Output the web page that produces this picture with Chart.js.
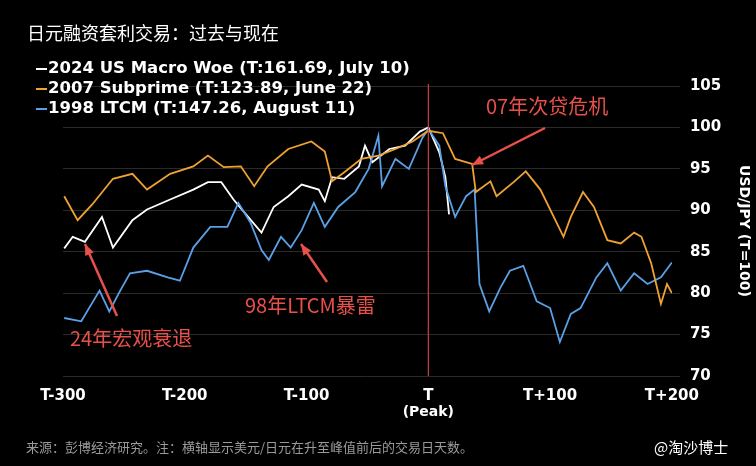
<!DOCTYPE html>
<html><head><meta charset="utf-8">
<script src="https://cdn.jsdelivr.net/npm/chart.js@4"></script>
<style>html,body{margin:0;background:#000;}#w{width:756px;height:466px;}</style>
</head><body><div id="w"><canvas id="c"></canvas></div>
<script>
const xTicks = [-300,-200,-100,0,100,200];
const xTickLabels = ['T-300','T-200','T-100','T','T+100','T+200'];
const whiteDays = [-299,-292,-282,-268,-259,-243,-231,-212,-193,-181,-170,-160,-148,-137,-127,-115,-104,-90,-85,-79,-69,-57,-52,-46,-32,-19,-7,0,9,14,17];
const whiteVals = [85.4,86.8,86.2,89.2,85.5,88.8,90.1,91.3,92.5,93.4,93.4,91.3,89.2,87.3,90.4,91.7,93.1,92.5,91.1,94.0,93.8,95.3,97.8,95.8,97.4,97.8,99.5,100,97,94,89.5];
const orangeDays = [-299,-288,-276,-259,-243,-231,-212,-193,-181,-168,-154,-143,-132,-115,-96,-85,-79,-69,-55,-41,-27,-13,0,12,22,36,39,51,56,70,80,92,103,111,117,127,136,147,158,169,175,183,191,196,200];
const orangeVals = [91.7,88.8,90.7,93.8,94.4,92.5,94.4,95.3,96.6,95.2,95.3,92.9,95.3,97.4,98.3,97.1,93.5,94.6,96.2,96.6,97.4,98.3,99.6,99.3,96.2,95.6,92.2,93.5,91.7,93.4,94.7,92.5,89.2,86.8,89.2,92.2,90.4,86.4,86.0,87.3,86.8,83.6,78.7,81.1,80.0];
const blueDays = [-299,-285,-270,-262,-253,-245,-231,-214,-204,-193,-179,-165,-156,-146,-137,-131,-121,-113,-104,-94,-85,-74,-60,-49,-41,-38,-27,-16,-5,0,9,14,22,31,38,42,50,59,67,78,89,100,108,117,125,138,147,158,169,180,191,200];
const blueVals = [77.0,76.6,80.3,77.8,80.3,82.4,82.7,81.9,81.5,85.5,88.0,88.0,90.9,88.5,85.2,84.0,86.8,85.5,87.6,90.9,88.0,90.4,92.2,95.0,99.0,92.9,96.2,95.0,98.7,99.8,97.8,92.9,89.2,91.7,92.5,81.1,77.8,80.6,82.7,83.3,79.0,78.2,74.1,77.5,78.2,81.9,83.6,80.3,82.4,81.1,81.9,83.7];
const legendTexts = ['2024 US Macro Woe (T:161.69, July 10)','2007 Subprime (T:123.89, June 22)','1998 LTCM (T:147.26, August 11)'];
const colors = ['#ffffff','#f0a232','#5aa0e6'];
const pts=(d,v)=>d.map((x,i)=>({x,y:v[i]}));
const red='#e8504a';
const deco={id:'deco',afterDraw(ch){
  const c=ch.ctx,xs=ch.scales.x,ys=ch.scales.y;
  c.save();
  c.fillStyle='#fff';c.font='18px "Noto Sans CJK SC"';c.textBaseline='middle';
  c.fillText('日元融资套利交易：过去与现在',27,33);
  c.font='bold 16.5px "DejaVu Sans"';
  legendTexts.forEach((t,i)=>{const y=69+i*20;c.strokeStyle=colors[i];c.lineWidth=2;c.beginPath();c.moveTo(36,y);c.lineTo(47,y);c.stroke();c.fillStyle='#fff';c.fillText(t,48,y);});
  const x0=xs.getPixelForValue(0);
  c.strokeStyle='#d0403a';c.lineWidth=1.2;c.beginPath();c.moveTo(x0,84);c.lineTo(x0,ys.bottom);c.stroke();
  c.fillStyle='#fff';c.font='bold 14px "DejaVu Sans"';c.textAlign='center';c.fillText('(Peak)',x0,412);
  c.fillStyle=red;c.font='20px "Noto Sans CJK SC"';c.textAlign='left';
  c.fillText('07年次贷危机',486,106);c.fillText('98年LTCM暴雷',245,305);c.fillText('24年宏观衰退',70,338);
  const arrow=(x1,y1,x2,y2)=>{c.strokeStyle=red;c.fillStyle=red;c.lineWidth=2.5;c.beginPath();c.moveTo(x1,y1);c.lineTo(x2,y2);c.stroke();
    const a=Math.atan2(y2-y1,x2-x1),L=12;c.beginPath();c.moveTo(x2,y2);c.lineTo(x2-L*Math.cos(a-0.4),y2-L*Math.sin(a-0.4));c.lineTo(x2-L*Math.cos(a+0.4),y2-L*Math.sin(a+0.4));c.closePath();c.fill();};
  arrow(545,128,472,165);arrow(327,282,301,244);arrow(117,316,85,244);
  c.fillStyle='#9a9a9a';c.font='13px "Noto Sans CJK SC"';c.fillText('来源：彭博经济研究。注：横轴显示美元/日元在升至峰值前后的交易日天数。',26,447);
  c.fillStyle='#fff';c.font='15px "Noto Sans CJK SC"';c.fillText('@淘沙博士',654,447);
  c.restore();
}};
new Chart(document.getElementById('c'),{type:'scatter',
 data:{datasets:[
  {data:pts(orangeDays,orangeVals),borderColor:colors[1]},
  {data:pts(blueDays,blueVals),borderColor:colors[2]},
  {data:pts(whiteDays,whiteVals),borderColor:colors[0]}
 ].map(d=>Object.assign(d,{showLine:true,pointRadius:0,borderWidth:1.8,tension:0}))},
 options:{animation:false,responsive:true,maintainAspectRatio:false,
  layout:{padding:{left:63,top:86,right:4,bottom:58}},
  plugins:{legend:{display:false},tooltip:{enabled:false}},
  scales:{
   x:{type:'linear',min:-300,max:200,afterBuildTicks:a=>{a.ticks=xTicks.map(v=>({value:v}));},
      grid:{display:false},border:{display:false},
      ticks:{color:'#fff',font:{family:'DejaVu Sans',weight:'bold',size:15},maxRotation:0,autoSkip:false,callback:v=>xTickLabels[xTicks.indexOf(v)]}},
   y:{position:'right',min:70,max:105,
      grid:{color:'#2a2a2a',lineWidth:1},border:{display:false},
      ticks:{stepSize:5,color:'#fff',font:{family:'DejaVu Sans',weight:'bold',size:15},padding:10},
      title:{display:true,text:'USD/JPY (T=100)',color:'#fff',font:{family:'DejaVu Sans',weight:'bold',size:14},padding:{top:0,bottom:4}}}
  }},
 plugins:[deco]});
</script></body></html>
